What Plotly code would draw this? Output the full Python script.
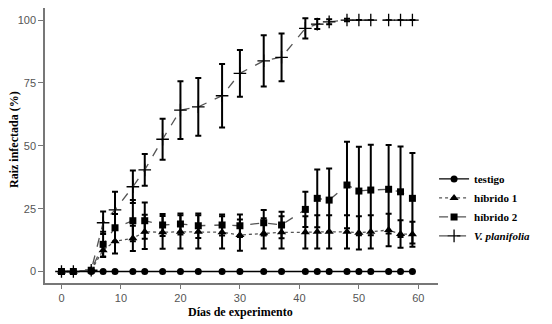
import plotly.graph_objects as go

days = [0, 2, 5, 7, 9, 12, 14, 17, 20, 23, 27, 30, 34, 37, 41, 43, 45, 48, 50, 52, 55, 57, 59]

testigo = [0] * 23

hibrido1 = [0, 0, 0.5, 8.5, 12, 13.2, 15.8, 15.6, 15.8, 15.8, 15.6, 14.5, 15.2, 15.6, 15.6, 15.8, 15.8, 15.8, 15.4, 15.8, 16.5, 14.9, 14.8]
hibrido1_err = [0, 0, 0.3, 2.5, 4.8, 5, 6.8, 6.5, 6.6, 6.6, 6.4, 6.2, 6, 6.4, 6.4, 6.6, 6.6, 6.6, 6.6, 6.6, 6.5, 5.5, 5]

hibrido2 = [0, 0, 0.5, 10.8, 17.4, 20.2, 20.2, 18.5, 18.9, 18.2, 18.5, 18.2, 19.4, 18.5, 24.7, 29.1, 28.4, 34.4, 32, 32.4, 32.7, 31.7, 29.1]
hibrido2_err = [0, 0, 0.3, 5, 5.5, 8.2, 7.2, 4.4, 4.2, 4.9, 4.2, 4.5, 5.1, 5.3, 7, 11.5, 12.6, 17.2, 17.6, 18, 17.6, 18, 18]

planifolia = [0, 0, 0.5, 19.4, 24.5, 33.7, 40.4, 52.6, 64.2, 65.5, 69.9, 78.8, 83.8, 85.2, 96.7, 98.4, 99.3, 100, 100, 100, 100, 100, 100]
planifolia_err = [0, 0, 0, 4.5, 7.2, 6.5, 6.3, 8.2, 11.5, 11.5, 12.6, 9.3, 10.2, 9.5, 4, 2, 1, 0.5, 0, 0, 0, 0, 0]

x_ticks = [0, 10, 20, 30, 40, 50, 60]
y_ticks = [0, 25, 50, 75, 100]

serif = "Liberation Serif"
sans = "Liberation Sans"
line_col = "#555555"

fig = go.Figure()

def err(vals):
    return dict(type="data", array=vals, visible=True, color="black", thickness=2, width=3)

fig.add_trace(go.Scatter(
    x=days, y=planifolia, name="<i>V. planifolia</i>", mode="lines+markers",
    line=dict(color=line_col, width=1.3, dash="dash"),
    marker=dict(symbol="cross-thin", size=9, color="black", line=dict(width=1.3, color="black")),
    error_y=err(planifolia_err),
))
fig.add_trace(go.Scatter(
    x=days, y=hibrido2, name="híbrido 2", mode="lines+markers",
    line=dict(color=line_col, width=1.3, dash="dash"),
    marker=dict(symbol="square", size=7, color="black"),
    error_y=err(hibrido2_err),
))
fig.add_trace(go.Scatter(
    x=days, y=hibrido1, name="híbrido 1", mode="lines+markers",
    line=dict(color=line_col, width=1.3, dash="dot"),
    marker=dict(symbol="triangle-up", size=8, color="black"),
    error_y=err(hibrido1_err),
))
fig.add_trace(go.Scatter(
    x=days, y=testigo, name="testigo", mode="lines+markers",
    line=dict(color="black", width=1.3),
    marker=dict(symbol="circle", size=7, color="black"),
))

# the page body adds an 8px offset; plot area targets page x 45..438, y 8..283
fig.update_layout(
    width=552, height=324,
    margin=dict(l=37, r=122, t=0, b=49, autoexpand=False),
    plot_bgcolor="white", paper_bgcolor="white",
    showlegend=True,
    legend=dict(
        x=0.99, y=0.275, xanchor="left", yanchor="middle",
        traceorder="reversed",
        font=dict(family=serif, size=11, color="black", weight="bold"),
        itemwidth=30, tracegroupgap=0,
        bgcolor="rgba(0,0,0,0)",
    ),
    xaxis=dict(
        range=[-2.77, 63.3], tickvals=x_ticks, ticktext=[str(v) for v in x_ticks],
        showgrid=False, zeroline=False, showline=True, linecolor="#777777", linewidth=1.5,
        ticks="outside", ticklen=4, tickcolor="#777777", automargin=False,
        tickfont=dict(family=sans, size=11, color="#555555"),
    ),
    yaxis=dict(
        range=[-4.57, 104.8], tickvals=y_ticks, ticktext=[str(v) for v in y_ticks],
        showgrid=False, zeroline=False, showline=True, linecolor="#777777", linewidth=1.5,
        ticks="outside", ticklen=5, tickcolor="#777777", automargin=False,
        tickfont=dict(family=sans, size=11, color="#555555"),
    ),
    annotations=[
        dict(text="<b>Días de experimento</b>", xref="paper", yref="paper",
             x=(240 - 45) / 393, y=-(312 - 283) / 275, xanchor="center", yanchor="middle",
             showarrow=False, font=dict(family=serif, size=12, color="black")),
        dict(text="<b>Raiz infectada (%)</b>", xref="paper", yref="paper",
             x=-(45 - 14) / 393, y=(283 - 140) / 275, xanchor="center", yanchor="middle", textangle=-90,
             showarrow=False, font=dict(family=serif, size=12, color="black")),
    ],
)

fig.write_html("out.html")
